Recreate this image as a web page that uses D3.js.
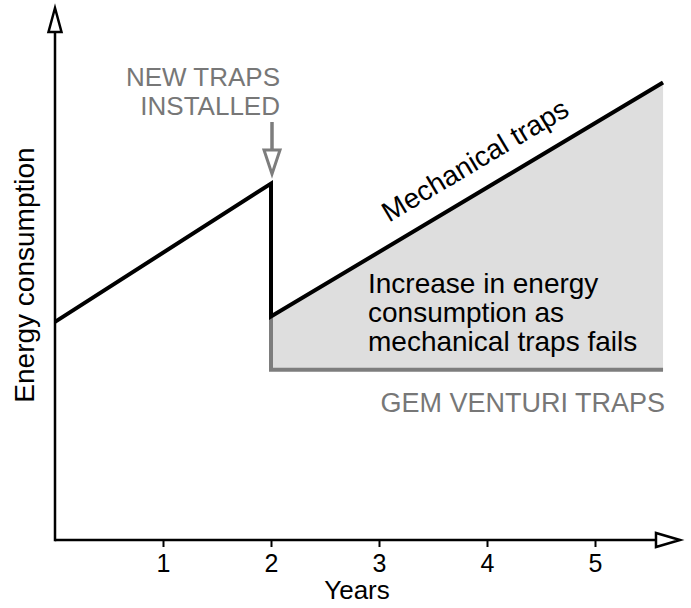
<!DOCTYPE html>
<html>
<head>
<meta charset="utf-8">
<script src="https://cdn.jsdelivr.net/npm/d3@7"></script>
<style>
  html, body { margin: 0; padding: 0; background: #fff; }
  svg { display: block; font-family: "Liberation Sans", Arial, Helvetica, sans-serif; }
</style>
</head>
<body>
<svg id="chart" width="691" height="608"></svg>
<script>
// ---- data ----
const xTickValues = [1, 2, 3, 4, 5];
const mechYears = [0, 2, 2, 5.63];
const mechValues = [41, 67, 42, 86];
const venturiYears = [2, 2, 5.63];
const venturiValues = [42, 32, 32];
const shadeYears = [2, 5.63];
const shadeTop = [42, 86];
const shadeBottom = [32, 32];
const xAxisMaxYear = 5.787;
const yAxisMax = 100;

const svg = d3.select("#chart");
const x = d3.scaleLinear().domain([0, 5]).range([55, 595]);
const y = d3.scaleLinear().domain([0, yAxisMax]).range([540, 8]);

const black = "#000", gray = "#7d7d7d", grayText = "#777", fill = "#dedede";

// shaded area
const shade = shadeYears.map((yr, i) => ({ x: yr, y0: shadeBottom[i], y1: shadeTop[i] }));
svg.append("path")
  .datum(shade)
  .attr("d", d3.area().x(d => x(d.x)).y0(d => y(d.y0)).y1(d => y(d.y1)))
  .attr("fill", fill);

// venturi (gray) line
const ven = venturiYears.map((yr, i) => ({ x: yr, v: venturiValues[i] }));
svg.append("path")
  .datum(ven)
  .attr("d", d3.line().x(d => x(d.x)).y(d => y(d.v)))
  .attr("fill", "none").attr("stroke", gray).attr("stroke-width", 4)
  .attr("stroke-linejoin", "miter");

// mechanical (black) line
const mech = mechYears.map((yr, i) => ({ x: yr, v: mechValues[i] }));
svg.append("path")
  .datum(mech)
  .attr("d", d3.line().x(d => x(d.x)).y(d => y(d.v)))
  .attr("fill", "none").attr("stroke", black).attr("stroke-width", 4)
  .attr("stroke-linejoin", "miter");

// axes lines
const x0 = x(0), yBase = y(0);
const xTip = x(xAxisMaxYear), yTip = y(yAxisMax);
svg.append("line").attr("x1", x0).attr("y1", yBase).attr("x2", xTip - 24).attr("y2", yBase)
  .attr("stroke", black).attr("stroke-width", 2.5);
svg.append("line").attr("x1", x0).attr("y1", yBase + 1.25).attr("x2", x0).attr("y2", yTip + 24)
  .attr("stroke", black).attr("stroke-width", 2.5);
// arrowheads (hollow)
svg.append("path")
  .attr("d", `M${xTip},${yBase} L${xTip - 24},${yBase - 7} L${xTip - 24},${yBase + 7} Z`)
  .attr("fill", "#fff").attr("stroke", black).attr("stroke-width", 2.5).attr("stroke-linejoin", "miter");
svg.append("path")
  .attr("d", `M${x0},${yTip} L${x0 - 6.5},${yTip + 24} L${x0 + 6.5},${yTip + 24} Z`)
  .attr("fill", "#fff").attr("stroke", black).attr("stroke-width", 2.5).attr("stroke-linejoin", "miter");

// x axis ticks
const axis = d3.axisBottom(x).tickValues(xTickValues).tickSize(7).tickPadding(6).tickFormat(d3.format("d"));
const gx = svg.append("g").attr("transform", `translate(0,${yBase})`).call(axis);
gx.select(".domain").remove();
gx.selectAll(".tick line").attr("stroke", black).attr("stroke-width", 2);
gx.selectAll(".tick text")
  .attr("fill", black).attr("font-size", 25)
  .attr("font-family", "'Liberation Sans', Arial, Helvetica, sans-serif")
  .attr("dy", null).attr("y", 32);

// axis titles
svg.append("text").attr("x", 357).attr("y", 599).attr("text-anchor", "middle")
  .attr("font-size", 26).attr("fill", black).text("Years");
svg.append("text").attr("transform", "translate(34,275) rotate(-90)").attr("text-anchor", "middle")
  .attr("font-size", 28).attr("fill", black).text("Energy consumption");

// NEW TRAPS INSTALLED annotation
const ax = x(2) + 1;
const newTrapsLines = ["NEW TRAPS", "INSTALLED"];
svg.append("text").attr("text-anchor", "end")
  .attr("font-size", 26).attr("fill", grayText)
  .selectAll("tspan").data(newTrapsLines).join("tspan")
  .attr("x", 280).attr("y", (d, i) => 85.5 + i * 29.5).text(d => d);
svg.append("line").attr("x1", ax).attr("y1", 122).attr("x2", ax).attr("y2", 150)
  .attr("stroke", gray).attr("stroke-width", 3.5);
svg.append("path")
  .attr("d", `M${ax - 8},${150} L${ax + 8},${150} L${ax},${174} Z`)
  .attr("fill", "#fff").attr("stroke", gray).attr("stroke-width", 3).attr("stroke-linejoin", "miter");

// Mechanical traps label along the line
const p1 = [x(mechYears[2]), y(mechValues[2])], p2 = [x(mechYears[3]), y(mechValues[3])];
const ang = Math.atan2(p2[1] - p1[1], p2[0] - p1[0]) * 180 / Math.PI;
const lx = x(4.03), ly = p1[1] + (p2[1] - p1[1]) * (4.03 - mechYears[2]) / (mechYears[3] - mechYears[2]);
svg.append("text").attr("transform", `translate(${lx},${ly}) rotate(${ang})`)
  .attr("text-anchor", "middle").attr("y", -20)
  .attr("font-size", 28).attr("fill", black).text("Mechanical traps");

// shaded area description
const desc = ["Increase in energy", "consumption as", "mechanical traps fails"];
svg.append("text").attr("font-size", 28).attr("fill", black)
  .selectAll("tspan").data(desc).join("tspan")
  .attr("x", 368).attr("y", (d, i) => 293 + i * 29).text(d => d);

// GEM VENTURI TRAPS
svg.append("text").attr("x", 665).attr("y", 412).attr("text-anchor", "end")
  .attr("font-size", 27).attr("fill", grayText).text("GEM VENTURI TRAPS");
</script>
</body>
</html>
